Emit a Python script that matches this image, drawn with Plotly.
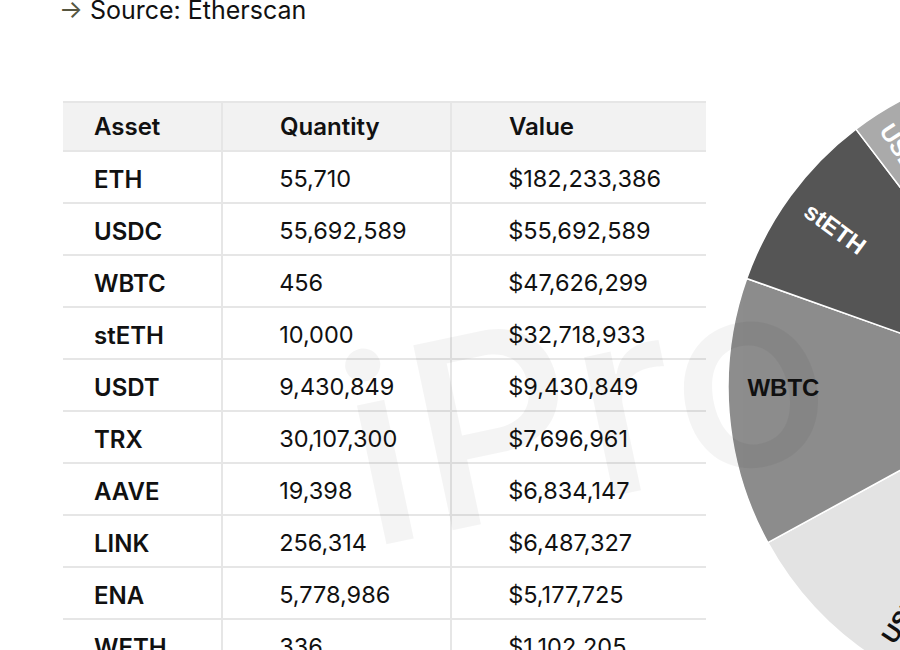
import plotly.graph_objects as go

# holdings
assets = ["ETH", "USDC", "WBTC", "stETH", "USDT", "TRX", "AAVE", "LINK", "ENA", "WETH"]
quantities = [55710, 55692589, 456, 10000, 9430849, 30107300, 19398, 256314, 5778986, 336]
values_usd = [182233386, 55692589, 47626299, 32718933, 9430849, 7696961, 6834147, 6487327, 5177725, 1102205]

header_labels = ["Asset", "Quantity", "Value"]

# greys used for the pie slices (same order as assets)
slice_colors = ["#2e2e2e", "#e3e3e3", "#8c8c8c", "#555555", "#aaaaaa",
                "#c4c4c4", "#777777", "#d2d2d2", "#9c9c9c", "#bcbcbc"]
slice_text_colors = ["white", "#111111", "#111111", "white", "white",
                     "#111111", "white", "#111111", "#111111", "#111111"]

W, H = 1400, 720  # page is wider/taller than the window, so the pie gets cut off like the original

pad1 = "\u2003"
pad2 = "\u2003\u2003\u200a"
col_widths = [160, 229, 256]
n = len(assets)

fig = go.Figure()

# table grid: fills and rules only. Two blank white columns (rendered at the far
# left and right) paint over the outer borders, the original has none.
grid_line = ["#e6e6e6"] * 3 + ["white", "white"]
fig.add_trace(go.Table(
    domain=dict(x=[0, 725 / W], y=[0, 1 - 102 / H]),
    columnwidth=col_widths + [62, 18],
    columnorder=[1, 2, 3, 0, 4],
    header=dict(
        values=[""] * 5,
        fill_color=["#f2f2f2"] * 3 + ["white", "white"],
        line=dict(color=grid_line, width=1.5),
        height=49,
    ),
    cells=dict(
        values=[[""] * n] * 5,
        fill_color="white",
        line=dict(color=grid_line, width=1.5),
        height=52,
    ),
    hoverinfo="skip",
))

# table text on a transparent copy, nudged down so the text sits mid-row
# (plotly puts cell text at the top of the cell)
fig.add_trace(go.Table(
    domain=dict(x=[62 / W, 707 / W], y=[0, 1 - 109 / H]),
    columnwidth=col_widths,
    header=dict(
        values=[pad1 + header_labels[0], pad2 + header_labels[1], pad2 + header_labels[2]],
        fill_color="rgba(0,0,0,0)",
        line=dict(color="rgba(0,0,0,0)", width=0),
        align="left",
        height=52.5,
        font=dict(family="Inter", size=24, color="#111111", weight=600),
    ),
    cells=dict(
        values=[[pad1 + a for a in assets],
                [pad2 + f"{q:,}" for q in quantities],
                [pad2 + f"${v:,}" for v in values_usd]],
        fill_color="rgba(0,0,0,0)",
        line=dict(color="rgba(0,0,0,0)", width=0),
        align="left",
        height=52,
        font=dict(family="Inter", size=[24, 23.5, 23.5], color="#111111", weight=[600, 400, 400]),
    ),
))

# pie of the same values, centre sits off to the right of the visible window
cx, cy, r = 1052, 387, 324
pie_domain = dict(x=[(cx - r) / W, (cx + r) / W], y=[(H - cy - r) / H, (H - cy + r) / H])

fig.add_trace(go.Pie(
    labels=assets,
    values=values_usd,
    sort=True,
    direction="clockwise",
    rotation=0,
    domain=pie_domain,
    marker=dict(colors=slice_colors, line=dict(color="white", width=1.5)),
    textinfo="none",
    showlegend=False,
    hoverinfo="label+value",
))

# same pie again as a transparent ring, only to carry the slice labels out near the rim
fig.add_trace(go.Pie(
    labels=assets,
    values=values_usd,
    sort=True,
    direction="clockwise",
    rotation=0,
    hole=0.66,
    domain=pie_domain,
    marker=dict(colors=["rgba(0,0,0,0)"] * n, line=dict(width=0)),
    textinfo="label",
    textposition="inside",
    insidetextorientation="radial",
    textfont=dict(family="Liberation Sans, Arial", size=24, color=slice_text_colors, weight="bold"),
    showlegend=False,
    hoverinfo="skip",
))

fig.add_annotation(
    x=57 / W, y=1 - 10 / H, xref="paper", yref="paper",
    xanchor="left", yanchor="middle", showarrow=False,
    text="<span style='color:#55553f'>→</span> Source: Etherscan",
    font=dict(family="Inter", size=25, color="#111111"),
)

# faint watermark
fig.add_annotation(
    x=585 / W, y=1 - 405 / H, xref="paper", yref="paper",
    showarrow=False, text="iPro", textangle=-12,
    font=dict(family="Inter", size=260, color="rgba(0,0,0,0.045)", weight=500),
)

fig.update_layout(
    width=W, height=H,
    margin=dict(l=0, r=0, t=0, b=0),
    paper_bgcolor="white",
    plot_bgcolor="white",
)

fig.write_html(
    "out.html",
    post_script="document.body.style.margin='0';document.body.style.overflow='hidden';"
                "document.documentElement.style.overflow='hidden';",
)
